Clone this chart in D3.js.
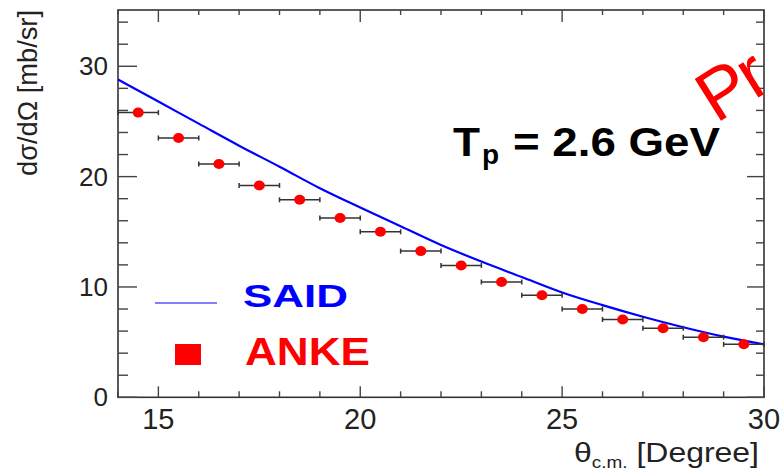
<!DOCTYPE html>
<html><head><meta charset="utf-8">
<script src="https://cdn.jsdelivr.net/npm/d3@7"></script>
<style>
html,body{margin:0;padding:0;background:#fff;}
svg{display:block;font-family:"Liberation Sans",Arial,sans-serif;}
</style></head>
<body>
<svg id="c" width="782" height="471"></svg>
<script>
// ANKE data: theta_cm bin centres, cross sections, half bin widths
const ankeTheta = [14.5,15.5,16.5,17.5,18.5,19.5,20.5,21.5,22.5,23.5,24.5,25.5,26.5,27.5,28.5,29.5];
const ankeXsec  = [25.8,23.5,21.15,19.2,17.9,16.25,15.0,13.25,11.95,10.45,9.25,8.0,7.05,6.25,5.45,4.8];
const ankeHalfWidth = [0.5,0.5,0.5,0.5,0.5,0.5,0.5,0.5,0.5,0.5,0.5,0.5,0.5,0.5,0.5,0.5];
// SAID curve
const saidTheta = [14,15,16,17,18,19,20,21,22,23,24,25,26,27,28,29,30];
const saidXsec  = [28.8,26.8,24.8,22.8,20.9,18.95,17.2,15.5,13.8,12.3,10.9,9.5,8.35,7.3,6.35,5.5,4.8];
// axis ticks
const xMajorTicks = [15,20,25,30];
const yMajorTicks = [0,10,20,30];

const svg = d3.select("#c");
const L=118,R=764,T=10,B=397.3;
const x = d3.scaleLinear().domain([14,30]).range([L,R]);
const y = d3.scaleLinear().domain([0,35.1]).range([B,T]);
const axisCol="#333";

// frame
svg.append("rect").attr("x",L).attr("y",T).attr("width",R-L).attr("height",B-T)
  .attr("fill","none").attr("stroke",axisCol).attr("stroke-width",1.6);

// ticks
const xMinor = d3.range(14,30.01,1);
const yMinor = d3.range(0,35,2);
const tk = svg.append("g").attr("stroke","#444").attr("stroke-width",1.4);
xMinor.forEach(v=>{
  const len = xMajorTicks.includes(v)?11:6;
  const len2 = xMajorTicks.includes(v)?12:5;
  tk.append("line").attr("x1",x(v)).attr("x2",x(v)).attr("y1",B).attr("y2",B-len);
  tk.append("line").attr("x1",x(v)).attr("x2",x(v)).attr("y1",T).attr("y2",T+len2);
});
yMinor.forEach(v=>{
  const maj = yMajorTicks.includes(v);
  tk.append("line").attr("x1",L).attr("x2",L+(maj?19:10)).attr("y1",y(v)).attr("y2",y(v));
  tk.append("line").attr("x1",R).attr("x2",R-(maj?17:8)).attr("y1",y(v)).attr("y2",y(v));
});

// tick labels
svg.append("g").selectAll("text").data(xMajorTicks).join("text")
  .attr("x",d=>x(d)).attr("y",429).attr("text-anchor","middle")
  .attr("font-size",29).attr("fill","#222").text(d=>d);
svg.append("g").selectAll("text").data(yMajorTicks).join("text")
  .attr("x",108).attr("y",d=>y(d)+9).attr("text-anchor","end")
  .attr("font-size",26).attr("fill","#222").text(d=>d);

// axis titles
const xt = svg.append("text").attr("x",574).attr("y",462).attr("font-size",27).attr("fill","#222")
  .attr("textLength",185).attr("lengthAdjust","spacingAndGlyphs");
xt.append("tspan").text("θ");
xt.append("tspan").attr("font-size",16).attr("dy",6).text("c.m.");
xt.append("tspan").attr("dy",-6).text(" [Degree]");

svg.append("text").attr("transform","translate(37,176) rotate(-90)")
  .attr("font-size",27).attr("fill","#222")
  .attr("textLength",166).attr("lengthAdjust","spacingAndGlyphs")
  .text("dσ/dΩ [mb/sr]");

// SAID line
svg.append("path").datum(saidTheta.map((t,i)=>[t,saidXsec[i]]))
  .attr("fill","none").attr("stroke","#0000ff").attr("stroke-width",2.2)
  .attr("d",d3.line().curve(d3.curveMonotoneX).x(d=>x(d[0])).y(d=>y(d[1])));

// ANKE error bars + points
const pts = ankeTheta.map((t,i)=>({t,v:ankeXsec[i],w:ankeHalfWidth[i]}));
const eb = svg.append("g").attr("stroke","#333").attr("stroke-width",1.5);
pts.forEach(p=>{
  eb.append("line").attr("x1",x(p.t-p.w)).attr("x2",x(p.t+p.w)).attr("y1",y(p.v)).attr("y2",y(p.v));
  [p.t-p.w,p.t+p.w].forEach(e=>eb.append("line").attr("x1",x(e)).attr("x2",x(e)).attr("y1",y(p.v)-2.5).attr("y2",y(p.v)+2.5));
});
svg.append("g").selectAll("ellipse").data(pts).join("ellipse")
  .attr("cx",d=>x(d.t)).attr("cy",d=>y(d.v)).attr("rx",5.5).attr("ry",5).attr("fill","#ff0000");

// energy label
svg.append("text").attr("x",453).attr("y",156).attr("font-size",40).attr("font-weight","bold")
  .attr("fill","#000").attr("textLength",27).attr("lengthAdjust","spacingAndGlyphs").text("T");
svg.append("text").attr("x",482).attr("y",164).attr("font-size",28).attr("font-weight","bold")
  .attr("fill","#000").text("p");
svg.append("text").attr("x",513).attr("y",156).attr("font-size",40).attr("font-weight","bold")
  .attr("fill","#000").attr("textLength",207).attr("lengthAdjust","spacingAndGlyphs").text("= 2.6 GeV");

// legend
svg.append("line").attr("x1",155).attr("x2",217).attr("y1",303).attr("y2",303)
  .attr("stroke","#8080ff").attr("stroke-width",2);
svg.append("text").attr("x",243).attr("y",307).attr("font-size",32).attr("font-weight","bold")
  .attr("fill","#0000ff").attr("textLength",105).attr("lengthAdjust","spacingAndGlyphs").text("SAID");
svg.append("rect").attr("x",175).attr("y",344).attr("width",26).attr("height",21).attr("fill","#ff0000");
svg.append("text").attr("x",245).attr("y",365).attr("font-size",38).attr("font-weight","bold")
  .attr("fill","#ff0000").attr("textLength",125).attr("lengthAdjust","spacingAndGlyphs").text("ANKE");

// stamp
svg.append("text").attr("transform","translate(716,124) rotate(-32)")
  .attr("font-size",72).attr("fill","#ff0000").attr("letter-spacing",-3)
  .attr("font-family","'Liberation Sans',sans-serif").text("Pr");
</script>
</body></html>
